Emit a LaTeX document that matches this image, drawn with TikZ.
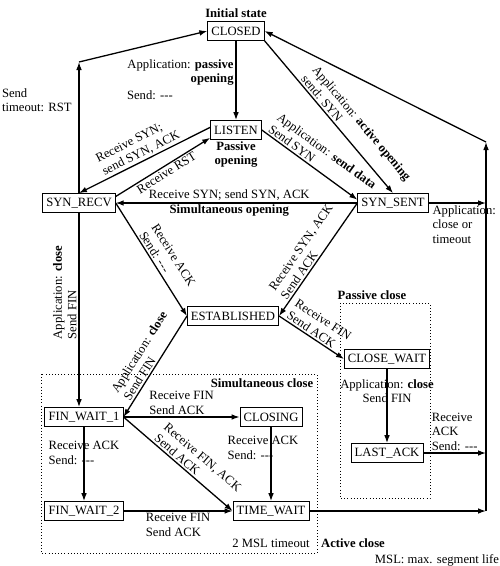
\documentclass[tikz,border=0pt]{standalone}
\usepackage{fontspec}
\setmainfont{Liberation Serif}[Ligatures=TeXOff]
\usetikzlibrary{arrows.meta,positioning}

\begin{document}
\begin{tikzpicture}[
  x=0.3mm, y=-0.3mm,
  every node/.style={font=\fontsize{10.8}{12.4}\selectfont},
  state/.style={draw, line width=0.6pt, rectangle, minimum height=5.7mm, inner xsep=1.1mm, inner ysep=0.5mm},
  arr/.style={-{Latex[length=2.4mm,width=1.7mm]}, line width=1.1pt},
  lbl/.style={align=left, inner sep=1.5pt},
  note/.style={font=\fontsize{10.8}{12.4}\selectfont\bfseries, inner sep=1pt},
  region/.style={draw, dotted, line width=0.7pt}
]
\useasboundingbox (0,0) rectangle (500,566);

% states
\node[state] (closed) at (236,31) {CLOSED};
\node[state] (listen) at (236,130) {LISTEN};
\node[state] (synrecv) at (79,203) {SYN\_RECV};
\node[state] (synsent) at (393,203) {SYN\_SENT};
\node[state] (estab) at (233,316) {ESTABLISHED};
\node[state] (closewait) at (387,359) {CLOSE\_WAIT};
\node[state] (lastack) at (387,453) {LAST\_ACK};
\node[state] (finwait1) at (84,417) {FIN\_WAIT\_1};
\node[state] (closing) at (271,417) {CLOSING};
\node[state] (finwait2) at (84,511) {FIN\_WAIT\_2};
\node[state] (timewait) at (271,511) {TIME\_WAIT};

\coordinate (lrail) at (79,62);
\coordinate (rrail) at (486,142);
\coordinate (rbot) at (486,511);

% group boxes and notes
\draw[region] (41,374) rectangle (317,553);
\draw[region] (340,303) rectangle (430,498);
\node[note, above=0.6mm of closed] (initial) {Initial state};
\node[note, align=center, below=0pt of listen] (passopen) {Passive\\opening};
\node[note] (simclose) at (262,383) {Simultaneous close};
\node[note] (passclose) at (372,295) {Passive close};
\node[note] (actclose) at (353,543) {Active close};
\node (msltime) at (271,543) {2 MSL timeout};
\node (msl) at (437,560) {MSL: max. segment life};

% transitions
\draw[arr] (closed) -- node[lbl, left, align=right, pos=0.4] (passapp) {Application: \textbf{passive}\\\textbf{opening}} (listen);
\node[lbl, anchor=north west] (passsend) at ([yshift=-1pt]passapp.south west) {Send: ---};
\draw[arr] (synrecv) -- node[lbl, left=1.5mm, pos=0.71] {Send\\timeout: RST} (lrail);
\draw[arr] (lrail) -- (closed.west);
\draw[arr] (rbot) -- (rrail);
\draw[arr] (rrail) -- (closed.east);
\draw[arr] (closed.south east) -- node[lbl, sloped, above, pos=0.63] {Application: \textbf{active opening}\\send: SYN} (synsent.north);
\draw[arr] ([yshift=0.8mm]listen.west) -- node[lbl, sloped, above] {Receive SYN;\\send SYN, ACK} (synrecv.north);
\draw[arr] ([yshift=-1mm]synrecv.north east) -- node[lbl, sloped, below] {Receive RST} ([yshift=0.6mm]listen.south west);
\draw[arr] (listen.east) -- node[lbl, sloped, above, pos=0.55] {Application: \textbf{send data}\\Send SYN} ([yshift=1mm]synsent.west);
\draw[arr] (synsent.west) -- node[lbl, above, pos=0.53] {Receive SYN; send SYN, ACK} node[note, below, pos=0.53] {Simultaneous opening} (synrecv.east);
\draw[arr] (synsent.east) -- node[lbl, below, pos=0.62] {Application:\\close or\\timeout} (synsent.east -| rrail);
\draw[arr] (synrecv.east) -- node[lbl, sloped, above, pos=0.56] {Receive ACK\\Send: ---} (estab.west);
\draw[arr] (synsent.west) -- node[lbl, sloped, above] {Receive SYN, ACK\\Send ACK} (estab.east);
\draw[arr] (synrecv.south) -- node[lbl, rotate=90, anchor=south, pos=0.41] {Application: \textbf{close}\\Send FIN} (synrecv.south |- finwait1.north);
\draw[arr] (estab.west) -- node[lbl, sloped, above, pos=0.47] {Application: \textbf{close}\\Send FIN} (finwait1.east);
\draw[arr] (estab.east) -- node[lbl, sloped, above] {Receive FIN\\Send ACK} (closewait.west);
\draw[arr] (closewait) -- node[lbl, align=center, pos=0.3] {Application: \textbf{close}\\Send FIN} (lastack);
\draw[arr] (lastack.east) -- node[lbl, above] {Receive\\ACK\\Send: ---} (lastack.east -| rrail);
\draw[arr] (timewait.east) -- (rbot);
\draw[arr] (finwait1.east) -- node[lbl, above] {Receive FIN\\Send ACK} (closing.west);
\draw[arr] (finwait1.east) -- node[lbl, sloped, above, pos=0.6] {Receive FIN, ACK\\Send ACK} (timewait.west);
\draw[arr] (finwait1) -- node[lbl, pos=0.35] {Receive ACK\\Send: ---} (finwait2);
\draw[arr] (closing) -- node[lbl, pos=0.28, xshift=-2.4mm] {Receive ACK\\Send: ---} (timewait);
\draw[arr] (finwait2) -- node[lbl, below] {Receive FIN\\Send ACK} (timewait);
\end{tikzpicture}
\end{document}
